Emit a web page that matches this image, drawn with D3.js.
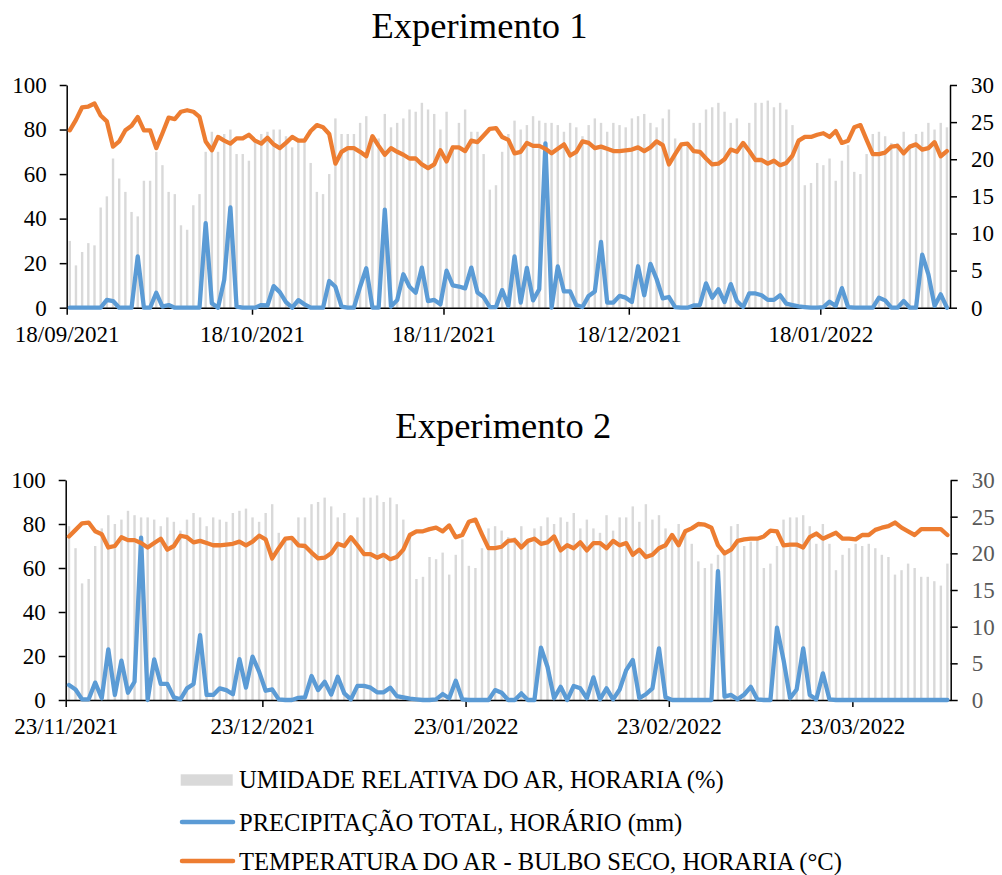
<!DOCTYPE html>
<html>
<head>
<meta charset="utf-8">
<script src="https://cdn.jsdelivr.net/npm/d3@7"></script>
<style>
  body { margin: 0; background: #fff; }
  text { font-family: "Liberation Serif", "Times New Roman", serif; }
</style>
</head>
<body>
<div id="chart"></div>
<script>
var svgWidth = 1002;
var svgHeight = 875;

// daily series starting 18/09/2021 (one value per day, up to 06/04/2022)
var inicio = new Date(2021, 8, 18);

var umidade = [
  30, 19, 25, 29, 28, 45, 50, 67, 58, 52, 43, 41, 57, 57, 70, 64, 52, 51, 37, 35,
  46, 51, 70, 79, 70, 78, 80, 69, 69, 66, 75, 78, 79, 80, 80, 77, 72, 76, 75, 65,
  52, 51, 60, 85, 78, 78, 78, 83, 86, 77, 76, 87, 81, 83, 85, 89, 88, 92, 89, 87,
  80, 88, 73, 83, 89, 79, 79, 69, 53, 55, 70, 78, 84, 80, 82, 86, 84, 83, 83, 82,
  79, 83, 81, 77, 82, 85, 83, 79, 83, 82, 81, 85, 86, 87, 83, 81, 85, 89, 76, 74,
  73, 83, 83, 89, 90, 92, 88, 83, 85, 73, 83, 92, 92, 93, 90, 92, 89, 82, 76, 55,
  56, 65, 64, 67, 57, 66, 73, 61, 60, 69, 78, 79, 77, 74, 74, 79, 73, 78, 79, 83,
  80, 83, 81, 85, 78, 82, 78, 76, 84, 77, 83, 83, 88, 81, 89, 82, 84, 78, 75, 80,
  76, 71, 63, 60, 62, 66, 68, 79, 80, 70, 72, 73, 60, 62, 70, 82, 83, 83, 84, 79,
  71, 80, 71, 59, 66, 69, 71, 70, 71, 69, 66, 65, 57, 59, 62, 60, 56, 56, 54, 52,
  62
];

var precipitacao = [
  0, 0, 0, 0, 0, 0, 3.5, 3, 0, 0, 0, 23, 0, 0, 6.7, 0.5, 1.2, 0, 0, 0,
  0, 0, 38, 2, 0, 12.5, 45, 0.5, 0, 0, 0, 1.2, 1, 9.7, 7, 2.5, 0, 3.4, 1.5, 0,
  0, 0, 12, 9.4, 0.5, 0, 0, 9.4, 17.7, 0, 0, 44, 0.5, 3.4, 15, 9.4, 6.7, 18, 3, 3.5,
  1.5, 16.6, 10, 9.5, 8.7, 18, 6.8, 4.8, 0.3, 0.3, 7.9, 0.8, 23, 2.3, 17.9, 3.3, 8.3, 73.8, 0, 18.5,
  7.3, 7.3, 1.2, 0.3, 5.3, 7.3, 29.5, 2.3, 2.3, 5.3, 4.5, 2.6, 18.6, 5.6, 19.7, 12.9, 4.2, 4.8, 0.3, 0,
  0, 1, 1.2, 10.9, 4.5, 8.3, 2.5, 10.6, 3, 0.3, 6.4, 6.4, 5.6, 3.5, 3.5, 5.6, 1.8, 1.2, 0.6, 0.3,
  0, 0, 0.3, 2.7, 0.8, 8.8, 0.3, 0, 0, 0, 0, 4.5, 3.3, 0, 0, 3, 0, 0, 23.8, 15,
  0.8, 6, 0, 6.4, 5.3, 0.8, 10.3, 0.3, 5.3, 0.3, 4.8, 13.6, 18.2, 0.8, 2.6, 5.3, 23.5, 1.2, 0, 0,
  0, 0, 0, 0, 0, 58.6, 1.5, 2.3, 0.3, 2.5, 6, 0.3, 0, 0, 32.9, 18.2, 0.8, 4.8, 23.5, 2.3,
  0.3, 12.1, 0.3, 0, 0, 0, 0, 0, 0, 0, 0, 0, 0, 0, 0, 0, 0, 0, 0, 0,
  0
];

var temperatura = [
  23.9, 25.3, 27.0, 27.1, 27.5, 25.9, 25.1, 21.7, 22.4, 23.9, 24.5, 25.7, 23.9, 23.9, 21.5, 23.5, 25.6, 25.4, 26.4, 26.6,
  26.4, 25.7, 22.4, 21.2, 23.0, 22.5, 22.1, 22.8, 22.8, 23.3, 22.5, 22.1, 22.9, 22.0, 21.5, 22.2, 23.0, 22.5, 22.5, 23.8,
  24.6, 24.3, 23.4, 19.4, 21.0, 21.5, 21.5, 21.0, 20.4, 23.1, 21.8, 20.6, 21.5, 21.0, 20.6, 20.1, 20.1, 19.3, 18.8, 19.3,
  21.2, 19.7, 21.6, 21.6, 21.1, 22.5, 22.3, 23.2, 24.1, 24.2, 23.0, 22.6, 20.8, 21.0, 22.2, 21.8, 21.8, 21.4, 20.8, 21.4,
  22.0, 20.5, 21.0, 22.4, 22.2, 21.5, 21.7, 21.4, 21.1, 21.1, 21.2, 21.3, 21.6, 21.1, 21.6, 22.4, 21.9, 19.3, 20.7, 22.0,
  22.1, 21.1, 21.0, 20.1, 19.3, 19.4, 20.0, 21.3, 21.0, 22.2, 21.1, 19.9, 19.9, 19.4, 19.8, 19.2, 19.5, 20.5, 22.5, 23.0,
  23.0, 23.3, 23.5, 23.0, 23.8, 22.2, 22.5, 24.3, 24.6, 22.6, 20.7, 20.7, 20.9, 21.7, 21.8, 20.8, 21.7, 22.0, 21.3, 21.5,
  22.3, 20.4, 21.1, 20.7, 21.5, 20.4, 21.4, 21.4, 20.7, 21.7, 21.1, 21.4, 19.8, 20.5, 19.5, 19.8, 20.7, 21.1, 22.5, 21.1,
  23.0, 23.4, 24.0, 23.9, 23.5, 21.1, 20.0, 20.5, 21.7, 21.9, 22.0, 22.0, 22.3, 23.1, 23.0, 21.1, 21.2, 21.2, 20.8, 22.2,
  22.7, 22.0, 22.4, 22.8, 22.0, 22.0, 21.9, 22.5, 22.5, 23.2, 23.5, 23.7, 24.2, 23.5, 23.0, 22.5, 23.3, 23.3, 23.3, 23.3,
  22.5
];

var titulos = ["Experimento 1", "Experimento 2"];
var periodos = [
  [new Date(2021, 8, 18), new Date(2022, 1, 8)],
  [new Date(2021, 10, 23), new Date(2022, 3, 7)]
];
var tickDatas = [
  [new Date(2021, 8, 18), new Date(2021, 9, 18), new Date(2021, 10, 18), new Date(2021, 11, 18), new Date(2022, 0, 18)],
  [new Date(2021, 10, 23), new Date(2021, 11, 23), new Date(2022, 0, 23), new Date(2022, 1, 23), new Date(2022, 2, 23)]
];
var ticksEsq = [0, 20, 40, 60, 80, 100];
var ticksDir = [0, 5, 10, 15, 20, 25, 30];
var legendaTextos = [
  "UMIDADE RELATIVA DO AR, HORARIA (%)",
  "PRECIPITAÇÃO TOTAL, HORÁRIO (mm)",
  "TEMPERATURA DO AR - BULBO SECO, HORARIA (°C)"
];

var corUmidade = "#d9d9d9";
var corPrecip = "#5b9bd5";
var corTemp = "#ed7d31";

var dados = umidade.map(function(u, i) {
  return {
    data: d3.timeDay.offset(inicio, i),
    u: u,
    p: precipitacao[i],
    t: temperatura[i]
  };
});

var svg = d3.select("#chart")
  .append("svg")
  .attr("width", svgWidth)
  .attr("height", svgHeight);

var paineis = [
  { left: 66.7, right: 950, top: 85, bottom: 307.7, titleX: 479.5, titleY: 37.7, corDir: "#000" },
  { left: 65.7, right: 950.7, top: 480, bottom: 700, titleX: 503.3, titleY: 437.7, corDir: "#595959" }
];

var fmt = d3.timeFormat("%d/%m/%Y");

paineis.forEach(function(p, k) {
  var g = svg.append("g");
  var serie = dados.filter(function(d) {
    return d.data >= periodos[k][0] && d.data < periodos[k][1];
  });

  var x = d3.scaleTime().domain(periodos[k]).range([p.left, p.right]);
  var yEsq = d3.scaleLinear().domain([0, 100]).range([p.bottom, p.top]);
  var yDir = d3.scaleLinear().domain([0, 30]).range([p.bottom, p.top]);
  var meio = function(d) { return x(d3.timeHour.offset(d.data, 12)); };

  g.append("text")
    .attr("x", p.titleX)
    .attr("y", p.titleY)
    .attr("text-anchor", "middle")
    .attr("font-size", "36.5px")
    .text(titulos[k]);

  // humidity bars
  var bw = 2.4;
  g.selectAll("rect.u")
    .data(serie)
    .enter()
    .append("rect")
    .attr("class", "u")
    .attr("x", function(d) { return meio(d) - bw / 2; })
    .attr("y", function(d) { return yEsq(d.u); })
    .attr("width", bw)
    .attr("height", function(d) { return yEsq(0) - yEsq(d.u); })
    .attr("fill", corUmidade);

  // axes
  var eixoEsq = d3.axisLeft(yEsq).tickValues(ticksEsq).tickSize(7).tickSizeOuter(0).tickPadding(13);
  var eixoDir = d3.axisRight(yDir).tickValues(ticksDir).tickSize(7).tickSizeOuter(0).tickPadding(14);
  var eixoX = d3.axisBottom(x).tickValues(tickDatas[k]).tickFormat(fmt).tickSize(7).tickSizeOuter(0).tickPadding(11);

  var gl = g.append("g").attr("transform", "translate(" + p.left + ",0)").call(eixoEsq);
  var gr = g.append("g").attr("transform", "translate(" + p.right + ",0)").call(eixoDir);
  var gx = g.append("g").attr("transform", "translate(0," + p.bottom + ")").call(eixoX);

  [gl, gr, gx].forEach(function(a) {
    a.selectAll("path, line").attr("stroke", "#000").attr("stroke-width", 1.5);
    a.selectAll("text").attr("font-size", "23px").attr("font-family", "Liberation Serif, Times New Roman, serif").attr("fill", "#000");
  });
  gr.selectAll("text").attr("fill", p.corDir);

  // precipitation line (left axis)
  var linhaP = d3.line()
    .x(meio)
    .y(function(d) { return yEsq(d.p); });
  g.append("path")
    .datum(serie)
    .attr("d", linhaP)
    .attr("fill", "none")
    .attr("stroke", corPrecip)
    .attr("stroke-width", 4.3)
    .attr("stroke-linejoin", "round")
    .attr("stroke-linecap", "round");

  // temperature line (right axis)
  var linhaT = d3.line()
    .x(meio)
    .y(function(d) { return yDir(d.t); });
  g.append("path")
    .datum(serie)
    .attr("d", linhaT)
    .attr("fill", "none")
    .attr("stroke", corTemp)
    .attr("stroke-width", 4.3)
    .attr("stroke-linejoin", "round")
    .attr("stroke-linecap", "round");
});

// legend
var legY = [787.5, 830.5, 869.5];
var leg = svg.append("g");
leg.append("rect")
  .attr("x", 180.7).attr("y", 774.3)
  .attr("width", 52).attr("height", 11.4)
  .attr("fill", corUmidade);
[corPrecip, corTemp].forEach(function(c, i) {
  leg.append("line")
    .attr("x1", 182).attr("x2", 233)
    .attr("y1", legY[i + 1] - 8.5).attr("y2", legY[i + 1] - 8.5)
    .attr("stroke", c)
    .attr("stroke-width", 4.5)
    .attr("stroke-linecap", "round");
});
leg.selectAll("text")
  .data(legendaTextos)
  .enter()
  .append("text")
  .attr("x", 239)
  .attr("y", function(d, i) { return legY[i]; })
  .attr("font-size", "24.6px")
  .text(function(d) { return d; });
</script>
</body>
</html>
